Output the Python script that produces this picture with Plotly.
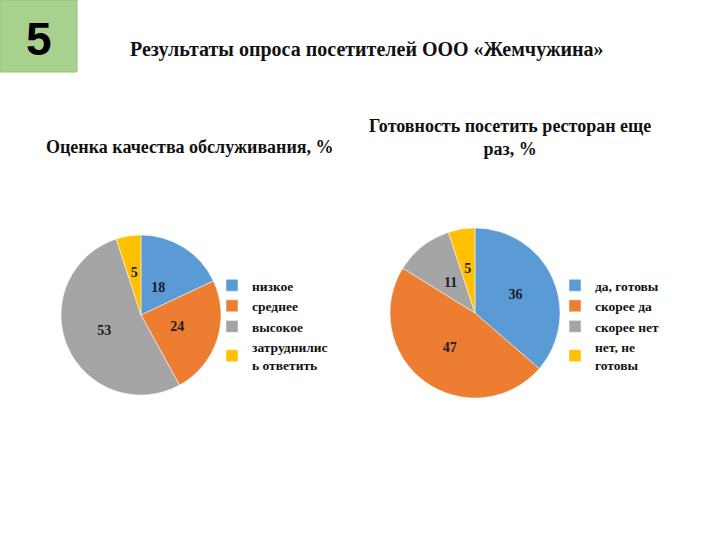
import plotly.graph_objects as go

title_text = "Результаты опроса посетителей ООО «Жемчужина»"
slide_number = "5"

left_title = "Оценка качества обслуживания, %"
left_labels = ["низкое", "среднее", "высокое", "затруднилис<br>ь ответить"]
left_values = [18, 24, 53, 5]

right_title = "Готовность посетить ресторан еще<br>раз, %"
right_labels = ["да, готовы", "скорее да", "скорее нет", "нет, не<br>готовы"]
right_values = [36, 47, 11, 5]

colors = ["#5B9BD5", "#ED7D31", "#A5A5A5", "#FFC000"]

W, H = 720, 540
serif = "Liberation Serif, Times New Roman, serif"
label_font = dict(family=serif, size=14, color="#1b1b2b", weight="bold")

# value-label placement tiers: (min value, max value, relative radius of label ring)
label_tiers = [(30, 101, 1.0), (20, 30, 0.8), (0, 20, 0.62)]


def px_dom(cx, cy, r):
    return dict(x=[(cx - r) / W, (cx + r) / W], y=[1 - (cy + r) / H, 1 - (cy - r) / H])


def add_pie(labels, values, cx, cy, r, legend):
    # the coloured pie
    fig.add_trace(go.Pie(
        labels=labels, values=values, sort=False, direction="clockwise", rotation=0,
        marker=dict(colors=colors, line=dict(color="white", width=0.5)),
        textinfo="none", domain=px_dom(cx, cy, r), legend=legend,
        hoverinfo="label+value",
    ))
    # transparent copies of the same pie that carry the value labels
    for lo, hi, f in label_tiers:
        tmpl = ["%{value}" if lo <= v < hi else "" for v in values]
        fig.add_trace(go.Pie(
            labels=labels, values=values, sort=False, direction="clockwise", rotation=0,
            marker=dict(colors=["rgba(0,0,0,0)"] * len(values), line=dict(width=0)),
            texttemplate=tmpl, textposition="inside", insidetextorientation="horizontal",
            textfont=label_font, domain=px_dom(cx, cy, r * f), showlegend=False,
            hoverinfo="skip",
        ))


fig = go.Figure()
add_pie(left_labels, left_values, 141, 315, 80, "legend")
add_pie(right_labels, right_values, 475, 313, 85, "legend2")

legend_common = dict(
    font=dict(family=serif, size=13.5, color="#111", weight="bold"),
    bgcolor="rgba(0,0,0,0)", tracegroupgap=0, itemwidth=30,
    xanchor="left", yanchor="top", traceorder="normal",
)
fig.update_layout(
    width=W, height=H, margin=dict(l=0, r=0, t=0, b=0),
    paper_bgcolor="white", plot_bgcolor="white", showlegend=True,
    uniformtext=dict(minsize=14, mode="show"),
    legend=dict(x=212 / W, y=1 - 270 / H, **legend_common),
    legend2=dict(x=555 / W, y=1 - 270 / H, **legend_common),
    shapes=[dict(type="rect", xref="paper", yref="paper",
                 x0=0, x1=77 / W, y0=1 - 72 / H, y1=1,
                 fillcolor="#A9D18E", line=dict(color="#93BF78", width=1))],
    annotations=[
        dict(text=slide_number, x=38.5 / W, y=1 - 38.5 / H, xref="paper", yref="paper",
             xanchor="center", yanchor="middle", showarrow=False,
             font=dict(family="Liberation Sans, Arial", size=46, color="black", weight="bold")),
        dict(text=title_text, x=366 / W, y=1 - 49 / H, xref="paper", yref="paper",
             xanchor="center", yanchor="middle", showarrow=False,
             font=dict(family=serif, size=20, color="#111", weight="bold")),
        dict(text=left_title, x=190 / W, y=1 - 147 / H, xref="paper", yref="paper",
             xanchor="center", yanchor="middle", showarrow=False,
             font=dict(family=serif, size=18, color="#111", weight="bold")),
        dict(text=right_title, x=510 / W, y=1 - 137 / H, xref="paper", yref="paper",
             xanchor="center", yanchor="middle", showarrow=False,
             font=dict(family=serif, size=18, color="#111", weight="bold")),
    ],
)

fig.write_html("out.html", config={"displayModeBar": False},
               post_script="document.body.style.margin='0';")
